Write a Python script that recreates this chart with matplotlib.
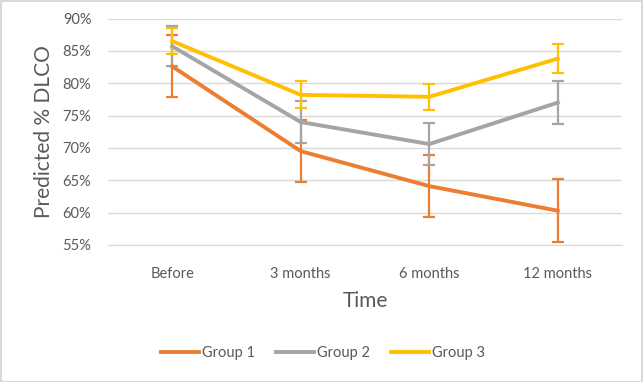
import matplotlib.pyplot as plt
from matplotlib.lines import Line2D
from matplotlib.ticker import FuncFormatter

# data
categories = ["Before", "3 months", "6 months", "12 months"]
group1 = [82.6, 69.5, 64.1, 60.3]
group1_err = [4.8, 4.8, 4.8, 4.9]
group2 = [85.7, 74.0, 70.6, 77.0]
group2_err = [3.1, 3.2, 3.3, 3.3]
group3 = [86.5, 78.2, 77.9, 83.8]
group3_err = [2.0, 2.1, 2.05, 2.2]

series = [
    ("Group 1", group1, group1_err, "#ED7D31"),
    ("Group 2", group2, group2_err, "#A5A5A5"),
    ("Group 3", group3, group3_err, "#FFC000"),
]

plt.rcParams["font.family"] = ["Lato", "DejaVu Sans"]
text_col = "#595959"

fig = plt.figure(figsize=(6.43, 3.82), dpi=100)
ax = fig.add_axes([108 / 643, 1 - 245 / 382, 514 / 643, (245 - 18.5) / 382])

x = list(range(len(categories)))
handles = []
for name, vals, err, col in series:
    ax.errorbar(x, vals, yerr=err, color=col, lw=2.8, elinewidth=1.6,
                capsize=4, capthick=1.6)
    handles.append(Line2D([], [], color=col, lw=2.8, label=name))

ax.set_xlim(-0.5, len(categories) - 0.5)
ax.set_ylim(55, 90)
ax.set_yticks(range(55, 91, 5))
ax.yaxis.set_major_formatter(FuncFormatter(lambda v, p: f"{v:.0f}%"))
ax.set_xticks(x)
ax.set_xticklabels(categories)
ax.grid(axis="y", color="#D9D9D9", lw=1)
ax.set_axisbelow(True)
for s in ["top", "right", "left"]:
    ax.spines[s].set_visible(False)
ax.spines["bottom"].set_color("#D9D9D9")
ax.tick_params(length=0, colors=text_col, labelsize=10.5)
ax.tick_params(axis="x", pad=16)
ax.tick_params(axis="y", pad=12)

ax.set_ylabel("Predicted % DLCO", fontsize=15, color=text_col, labelpad=6)
ax.set_xlabel("Time", fontsize=15, color=text_col, labelpad=7)

fig.legend(handles=handles, loc="center", bbox_to_anchor=(323 / 643, 1 - 353 / 382),
           ncol=3, frameon=False, fontsize=10.5, labelcolor=text_col,
           handlelength=2.6, handletextpad=0.25, columnspacing=1.4)

# outer chart border
fig.patches.append(plt.Rectangle((0.001, 0.001), 0.997, 0.997, transform=fig.transFigure,
                                 fill=False, edgecolor="#D9D9D9", lw=1.5))

fig.savefig("out.png", dpi=100)
